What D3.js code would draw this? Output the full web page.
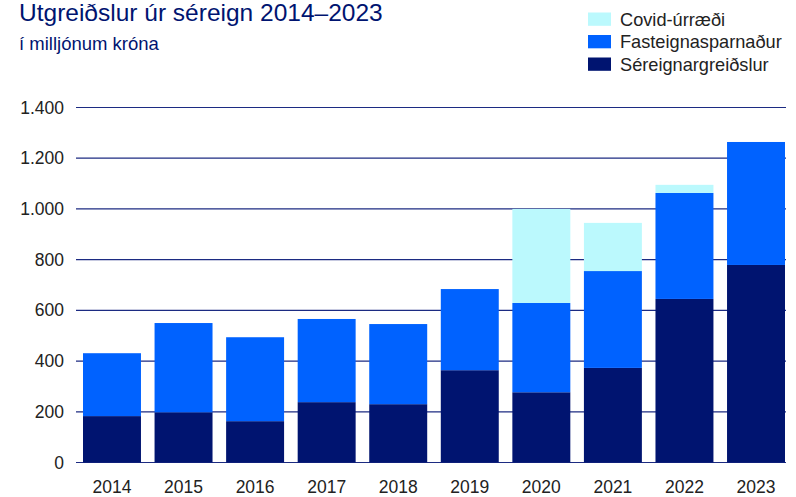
<!DOCTYPE html>
<html><head><meta charset="utf-8">
<script src="https://cdn.jsdelivr.net/npm/d3@7"></script>
<style>body{margin:0;background:#fff;} svg{display:block;font-family:"Liberation Sans",Arial,sans-serif;}</style>
</head><body><svg id="c" width="796" height="497"></svg>
<script>
const years = ["2014","2015","2016","2017","2018","2019","2020","2021","2022","2023"];
const sereignargreidslur = [183,198,163,238,230,364,277,373,645,779];
const fasteignasparnadur = [248,352,331,328,316,320,352,382,418,485];
const covidUrraedi = [0,0,0,0,0,0,371,190,32,0];
const yTicks = [0,200,400,600,800,1000,1200,1400];
const seriesNames = ["Séreignargreiðslur","Fasteignasparnaður","Covid-úrræði"];
const colors = ["#001470","#0062ff","#bbf9fd"];

const rows = years.map((y,i)=>({year:y, s0:sereignargreidslur[i], s1:fasteignasparnadur[i], s2:covidUrraedi[i]}));
const stack = d3.stack().keys(["s0","s1","s2"])(rows);

const svg = d3.select("#c");
const y = d3.scaleLinear().domain([0,1400]).range([462.5,107.5]);
const x = d3.scaleBand().domain(years).range([83,785]).paddingInner(0.19).paddingOuter(0);

// gridlines
svg.append("g").selectAll("line").data(yTicks).join("line")
  .attr("x1",76).attr("x2",786)
  .attr("y1",d=>y(d)).attr("y2",d=>y(d))
  .attr("stroke","#1c2b82").attr("stroke-width",1.2);

// y labels
svg.append("g").selectAll("text").data(yTicks).join("text")
  .attr("x",64).attr("y",d=>y(d)).attr("dy","0.35em")
  .attr("text-anchor","end").attr("font-size",17.5).attr("fill","#222")
  .text(d=>d3.format(",")(d).replace(/,/g,"."));

// bars
svg.append("g").selectAll("g").data(stack).join("g")
  .attr("fill",(d,i)=>colors[i])
  .selectAll("rect").data(d=>d).join("rect")
  .attr("x",d=>x(d.data.year)).attr("width",x.bandwidth())
  .attr("y",d=>y(d[1])).attr("height",d=>Math.max(0,y(d[0])-y(d[1])));

// x labels
svg.append("g").selectAll("text").data(years).join("text")
  .attr("x",d=>x(d)+x.bandwidth()/2).attr("y",493)
  .attr("text-anchor","middle").attr("font-size",17.5).attr("fill","#222")
  .text(d=>d);

// title
svg.append("text").attr("x",19).attr("y",21).attr("font-size",24.5).attr("fill","#001470")
  .text("Utgreiðslur úr séreign 2014–2023");
svg.append("text").attr("x",19).attr("y",50).attr("font-size",18.5).attr("fill","#001470")
  .text("í milljónum króna");

// legend
const legendOrder = [2,1,0];
const lg = svg.append("g").selectAll("g").data(legendOrder).join("g")
  .attr("transform",(d,i)=>`translate(588,${12.5+i*22.5})`);
lg.append("rect").attr("width",23).attr("height",13.3).attr("fill",d=>colors[d]);
lg.append("text").attr("x",32).attr("y",13).attr("font-size",18.2).attr("fill","#222")
  .text(d=>seriesNames[d]);
</script></body></html>
